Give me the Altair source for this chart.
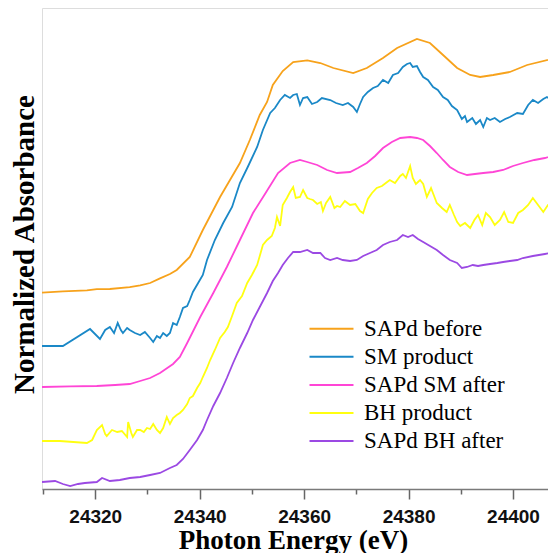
import altair as alt
import pandas as pd

series_names = ["SAPd before", "SM product", "SAPd SM after", "BH product", "SAPd BH after"]
series_colors = ["#F7A21B", "#1A88C7", "#FF45D6", "#FFFF10", "#9B49E3"]

e_before = [24309.8, 24313.8, 24318.4, 24320.3, 24322.8, 24326.6, 24328.6, 24330.5, 24332.4, 24334.3,
            24335.6, 24338.1, 24340.6, 24343.9, 24345.8, 24347.7, 24349.6, 24351.5, 24352.9, 24354.0,
            24355.9, 24357.9, 24360.6, 24363.1, 24365.6, 24369.4, 24372.0, 24375.1, 24377.8, 24381.6,
            24384.1, 24386.6, 24389.3, 24391.8, 24393.7, 24396.2, 24399.4, 24402.7, 24408.2]
a_before = [0.982, 0.988, 0.993, 0.999, 1.000, 1.009, 1.018, 1.030, 1.053, 1.075,
            1.095, 1.160, 1.295, 1.460, 1.545, 1.630, 1.745, 1.870, 1.935, 2.020,
            2.090, 2.135, 2.143, 2.130, 2.105, 2.080, 2.105, 2.155, 2.205, 2.250,
            2.230, 2.170, 2.105, 2.070, 2.060, 2.070, 2.085, 2.120, 2.155]

e_sm = [24309.8, 24313.8, 24319.0, 24320.9, 24321.9, 24322.8, 24323.6, 24324.3, 24324.9, 24325.3,
        24326.1, 24326.6, 24327.6, 24328.6, 24329.5, 24330.5, 24331.1, 24331.8, 24332.4, 24333.0,
        24333.7, 24334.3, 24334.9, 24335.6, 24336.2, 24336.8, 24337.6, 24338.1, 24338.7, 24339.7,
        24340.6, 24341.4, 24342.9, 24344.5, 24346.2, 24347.7, 24349.2, 24351.0, 24352.1, 24353.5,
        24354.4, 24355.4, 24356.3, 24357.3, 24357.9, 24358.6, 24359.2, 24359.8, 24360.6, 24361.5,
        24362.5, 24363.4, 24365.0, 24366.1, 24367.4, 24368.4, 24369.4, 24370.1, 24370.7, 24371.3,
        24372.2, 24373.2, 24374.1, 24375.1, 24376.1, 24377.0, 24378.0, 24378.9, 24379.7, 24380.3,
        24380.8, 24381.6, 24382.2, 24382.8, 24383.7, 24384.7, 24385.6, 24386.6, 24387.5, 24388.3,
        24389.3, 24390.2, 24390.8, 24391.2, 24392.2, 24392.9, 24393.7, 24394.3, 24395.0, 24395.6,
        24396.5, 24397.5, 24398.5, 24399.4, 24400.8, 24401.9, 24402.9, 24403.8, 24404.8, 24405.8,
        24406.5, 24407.3, 24408.2]
a_sm = [0.715, 0.715, 0.800, 0.750, 0.795, 0.810, 0.780, 0.830, 0.795, 0.780,
        0.805, 0.795, 0.780, 0.770, 0.785, 0.755, 0.735, 0.765, 0.755, 0.780,
        0.765, 0.780, 0.830, 0.820, 0.860, 0.905, 0.915, 0.945, 0.985, 1.030,
        1.070, 1.145, 1.245, 1.330, 1.410, 1.530, 1.610, 1.710, 1.795, 1.880,
        1.905, 1.945, 1.970, 1.955, 1.970, 1.975, 1.920, 1.955, 1.960, 1.925,
        1.935, 1.955, 1.945, 1.930, 1.920, 1.930, 1.910, 1.885, 1.925, 1.960,
        1.985, 2.005, 2.015, 2.045, 2.030, 2.070, 2.080, 2.110, 2.125, 2.130,
        2.110, 2.115, 2.085, 2.060, 2.045, 2.010, 1.995, 1.960, 1.945, 1.915,
        1.895, 1.850, 1.865, 1.835, 1.855, 1.825, 1.845, 1.810, 1.855, 1.845,
        1.855, 1.835, 1.850, 1.860, 1.880, 1.875, 1.920, 1.945, 1.930, 1.950,
        1.960, 1.945, 1.935]

e_sm_after = [24309.8, 24315.2, 24320.3, 24323.8, 24326.6, 24328.6, 24330.5, 24332.4, 24334.9, 24336.2,
              24337.6, 24340.1, 24342.6, 24345.2, 24347.7, 24350.2, 24352.5, 24355.0, 24357.3, 24359.2,
              24360.6, 24362.5, 24364.4, 24366.3, 24368.8, 24370.3, 24372.0, 24373.6, 24375.1, 24376.8,
              24378.4, 24380.3, 24381.6, 24382.8, 24384.1, 24385.4, 24386.6, 24387.9, 24389.5, 24391.2,
              24392.7, 24394.3, 24396.2, 24398.1, 24400.0, 24401.9, 24404.1, 24406.1, 24408.2]
a_sm_after = [0.510, 0.513, 0.515, 0.520, 0.525, 0.540, 0.555, 0.580, 0.625, 0.660,
              0.730, 0.860, 0.980, 1.110, 1.245, 1.380, 1.475, 1.580, 1.630, 1.645,
              1.635, 1.620, 1.595, 1.580, 1.585, 1.605, 1.630, 1.665, 1.705, 1.735,
              1.755, 1.760, 1.755, 1.745, 1.715, 1.680, 1.645, 1.610, 1.585, 1.570,
              1.575, 1.580, 1.585, 1.595, 1.615, 1.630, 1.645, 1.655, 1.670]

e_bh = [24309.8, 24313.2, 24318.4, 24319.4, 24320.3, 24321.3, 24321.9, 24322.2, 24323.2, 24324.2,
        24325.1, 24326.1, 24326.3, 24326.9, 24327.2, 24328.0, 24328.6, 24329.3, 24329.9, 24330.5,
        24331.1, 24331.8, 24332.4, 24333.0, 24333.7, 24334.3, 24334.9, 24335.6, 24336.2, 24336.8,
        24337.6, 24338.1, 24338.7, 24339.5, 24340.1, 24340.6, 24341.4, 24342.0, 24342.9, 24343.9,
        24344.8, 24345.4, 24346.2, 24347.1, 24348.1, 24349.1, 24350.0, 24351.0, 24351.5, 24352.1,
        24352.9, 24353.8, 24354.4, 24354.8, 24355.4, 24355.9, 24356.7, 24357.3, 24357.9, 24358.4,
        24359.2, 24359.8, 24360.6, 24361.1, 24361.7, 24362.5, 24363.2, 24363.6, 24364.2, 24365.0,
        24365.8, 24366.3, 24366.9, 24367.8, 24368.8, 24369.8, 24370.7, 24371.3, 24372.2, 24373.0,
        24373.9, 24374.9, 24375.9, 24376.4, 24377.4, 24378.4, 24378.9, 24379.5, 24380.3, 24380.8,
        24381.4, 24382.2, 24382.8, 24383.5, 24384.3, 24385.4, 24386.4, 24387.3, 24387.9, 24388.7,
        24389.3, 24389.9, 24390.8, 24391.8, 24392.6, 24393.3, 24394.1, 24394.8, 24395.6, 24396.5,
        24397.5, 24398.3, 24399.1, 24400.0, 24401.0, 24401.9, 24402.9, 24403.8, 24404.8, 24405.8,
        24406.7, 24407.5, 24408.2]
a_bh = [0.240, 0.240, 0.230, 0.245, 0.295, 0.320, 0.275, 0.265, 0.295, 0.285,
        0.290, 0.260, 0.335, 0.280, 0.260, 0.295, 0.295, 0.285, 0.305, 0.300,
        0.325, 0.295, 0.280, 0.305, 0.360, 0.325, 0.355, 0.370, 0.380, 0.395,
        0.425, 0.455, 0.465, 0.505, 0.530, 0.560, 0.605, 0.645, 0.695, 0.755,
        0.785, 0.810, 0.865, 0.930, 0.965, 1.030, 1.070, 1.120, 1.165, 1.220,
        1.245, 1.265, 1.305, 1.360, 1.315, 1.420, 1.455, 1.485, 1.510, 1.455,
        1.460, 1.495, 1.455, 1.450, 1.445, 1.425, 1.435, 1.390, 1.430, 1.460,
        1.405, 1.415, 1.410, 1.440, 1.420, 1.425, 1.390, 1.380, 1.450, 1.480,
        1.505, 1.515, 1.535, 1.545, 1.530, 1.565, 1.575, 1.555, 1.615, 1.555,
        1.525, 1.545, 1.525, 1.460, 1.505, 1.430, 1.405, 1.385, 1.420, 1.370,
        1.335, 1.315, 1.330, 1.305, 1.345, 1.370, 1.320, 1.380, 1.360, 1.320,
        1.345, 1.385, 1.335, 1.330, 1.380, 1.395, 1.420, 1.455, 1.420, 1.385,
        1.420, 1.430, 1.445]

e_bh_after = [24309.8, 24312.3, 24313.8, 24315.2, 24316.7, 24318.0, 24320.3, 24321.3, 24322.8, 24324.7,
              24326.6, 24328.6, 24330.5, 24332.4, 24334.3, 24335.6, 24336.8, 24338.1, 24339.5, 24340.6,
              24341.4, 24342.6, 24343.9, 24345.2, 24346.4, 24347.7, 24349.1, 24350.2, 24351.5, 24352.9,
              24354.0, 24355.0, 24355.9, 24356.9, 24357.9, 24359.2, 24360.6, 24361.7, 24363.1, 24364.0,
              24365.0, 24366.3, 24367.4, 24368.8, 24370.1, 24371.3, 24372.6, 24373.9, 24375.1, 24376.4,
              24377.8, 24378.9, 24379.9, 24380.8, 24381.8, 24382.8, 24384.1, 24385.4, 24386.6, 24387.9,
              24389.3, 24390.2, 24391.2, 24392.3, 24393.3, 24394.3, 24395.6, 24397.0, 24398.1, 24399.4,
              24400.8, 24401.9, 24403.8, 24406.1, 24408.2]
a_bh_after = [0.035, 0.040, 0.025, 0.015, 0.025, 0.030, 0.035, 0.055, 0.040, 0.045,
              0.055, 0.060, 0.070, 0.080, 0.105, 0.120, 0.150, 0.195, 0.245, 0.295,
              0.345, 0.415, 0.480, 0.555, 0.630, 0.705, 0.780, 0.845, 0.910, 0.980,
              1.040, 1.080, 1.120, 1.155, 1.185, 1.185, 1.195, 1.180, 1.180, 1.155,
              1.145, 1.155, 1.145, 1.140, 1.145, 1.165, 1.180, 1.195, 1.220, 1.235,
              1.245, 1.270, 1.260, 1.270, 1.250, 1.235, 1.215, 1.195, 1.170, 1.145,
              1.130, 1.105, 1.110, 1.120, 1.115, 1.120, 1.125, 1.130, 1.135, 1.140,
              1.145, 1.155, 1.165, 1.175, 1.185]

x_tick_values = [24310, 24320, 24330, 24340, 24350, 24360, 24370, 24380, 24390, 24400]

frames = []
for name, es, av in zip(series_names,
                        [e_before, e_sm, e_sm_after, e_bh, e_bh_after],
                        [a_before, a_sm, a_sm_after, a_bh, a_bh_after]):
    frames.append(pd.DataFrame({"energy": es, "absorbance": av, "series": name}))
df = pd.concat(frames, ignore_index=True)

chart = alt.Chart(df).mark_line(strokeWidth=1.8, clip=True).encode(
    x=alt.X("energy:Q",
            scale=alt.Scale(domain=[24309.8, 24406.7], nice=False, zero=False),
            axis=alt.Axis(
                values=x_tick_values,
                format="d",
                labelExpr="datum.value % 20 === 0 ? datum.label : ''",
                tickSize={"condition": {"test": "datum.value % 20 === 0", "value": 10}, "value": 5},
                tickColor="#666666", tickWidth=1.5,
                domainColor="#7a7a7a", domainWidth=1.5,
                labelFont="Liberation Sans", labelFontSize=19, labelFontWeight="bold",
                labelColor="#111111", labelPadding=8, labelFlush=False,
                grid=False,
                title="Photon Energy (eV)",
                titleFont="Liberation Serif", titleFontSize=27, titleFontWeight="bold",
                titleColor="#000000", titleBaseline="alphabetic", titleAlign="center",
                titleX=251, titleY=59)),
    y=alt.Y("absorbance:Q",
            scale=alt.Scale(domain=[0, 2.405], nice=False, zero=False),
            axis=alt.Axis(
                ticks=False, labels=False, domain=False, grid=False,
                title="Normalized Absorbance",
                titleFont="Liberation Serif", titleFontSize=29, titleFontWeight="bold",
                titleColor="#000000", titleBaseline="alphabetic", titleAlign="center",
                titleAngle=270, titleX=-9, titleY=236)),
    color=alt.Color("series:N",
                    scale=alt.Scale(domain=series_names, range=series_colors),
                    legend=alt.Legend(
                        title=None, orient="none", legendX=278, legendY=309.2,
                        symbolType="M-3,0H3", symbolSize=215, symbolStrokeWidth=2,
                        labelFont="Liberation Serif", labelFontSize=23, labelColor="#000000",
                        labelOffset=21, rowPadding=4.1, padding=0, labelLimit=400)),
    order=alt.Order("series_order:Q"),
).transform_calculate(
    series_order="indexof(" + str(series_names) + ", datum.series)"
).properties(
    width=506, height=481,
    autosize=alt.AutoSizeParams(type="none"),
    padding={"left": 34, "top": 0, "right": 0, "bottom": 64},
).configure_view(
    stroke="#7a7a7a", strokeWidth=1.5
).configure(background="white")

chart.save("out.html", embed_options={"renderer": "svg", "actions": False})
